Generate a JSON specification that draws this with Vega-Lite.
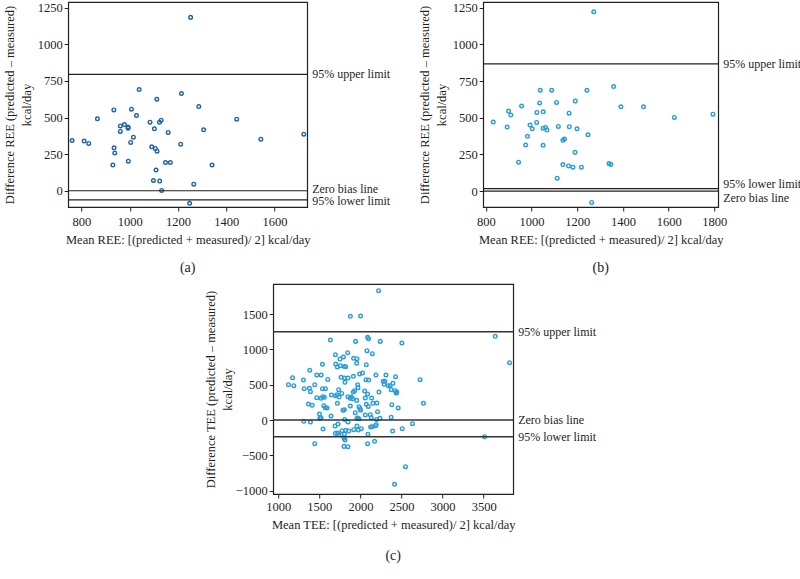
{
  "$schema": "https://vega.github.io/schema/vega-lite/v6.json",
  "padding": {"left": 2, "top": 0, "right": 0, "bottom": 5},
  "background": "white",
  "datasets": {
    "a_pts": [
      {"x":1252,"y":1184},{"x":1039,"y":691},{"x":1214,"y":664},{"x":1112,"y":625},{"x":1286,"y":575},
      {"x":934,"y":552},{"x":1007,"y":557},{"x":1028,"y":514},{"x":866,"y":491},{"x":1443,"y":489},
      {"x":1130,"y":482},{"x":1084,"y":468},{"x":1123,"y":468},{"x":978,"y":452},{"x":961,"y":443},
      {"x":993,"y":436},{"x":993,"y":427},{"x":1102,"y":423},{"x":1306,"y":416},{"x":1159,"y":398},
      {"x":961,"y":405},{"x":1721,"y":386},{"x":1015,"y":366},{"x":1543,"y":352},{"x":761,"y":343},
      {"x":811,"y":339},{"x":830,"y":323},{"x":1004,"y":330},{"x":1211,"y":318},{"x":935,"y":293},
      {"x":1091,"y":300},{"x":1106,"y":289},{"x":1113,"y":270},{"x":938,"y":257},{"x":1148,"y":193},
      {"x":1168,"y":193},{"x":930,"y":175},{"x":1341,"y":175},{"x":994,"y":202},{"x":1109,"y":141},
      {"x":1098,"y":70},{"x":1124,"y":66},{"x":1265,"y":45},{"x":1132,"y":2},{"x":1248,"y":-86}
    ],
    "a_lim": [
      {"t":"95% upper limit","line":795,"lab":795},
      {"t":"Zero bias line","line":0,"lab":15},
      {"t":"95% lower limit","line":-63,"lab":-68}
    ],
    "b_pts": [
      {"x":1272,"y":1221},{"x":1359,"y":712},{"x":1038,"y":687},{"x":1088,"y":687},{"x":1242,"y":687},
      {"x":1035,"y":601},{"x":1109,"y":604},{"x":1191,"y":613},{"x":956,"y":579},{"x":1391,"y":574},
      {"x":1490,"y":574},{"x":899,"y":545},{"x":1023,"y":536},{"x":1051,"y":540},{"x":1164,"y":531},
      {"x":909,"y":518},{"x":1625,"y":502},{"x":1794,"y":524},{"x":832,"y":470},{"x":1022,"y":468},
      {"x":893,"y":436},{"x":993,"y":450},{"x":1003,"y":425},{"x":1050,"y":429},{"x":1061,"y":434},
      {"x":1067,"y":416},{"x":1117,"y":441},{"x":1165,"y":439},{"x":1199,"y":425},{"x":982,"y":373},
      {"x":1247,"y":384},{"x":1137,"y":346},{"x":1144,"y":355},{"x":974,"y":314},{"x":1050,"y":312},
      {"x":1190,"y":264},{"x":943,"y":197},{"x":1137,"y":181},{"x":1162,"y":172},{"x":1181,"y":163},
      {"x":1218,"y":163},{"x":1339,"y":188},{"x":1347,"y":181},{"x":1112,"y":88},{"x":1263,"y":-77}
    ],
    "b_lim": [
      {"t":"95% upper limit","line":866,"lab":866},
      {"t":"95% lower limit","line":17,"lab":49},
      {"t":"Zero bias line","line":0,"lab":-50}
    ],
    "c_pts": [
      {"x":2222,"y":1830},{"x":1878,"y":1467},{"x":2003,"y":1472},{"x":1635,"y":1132},{"x":1942,"y":1113},
      {"x":2088,"y":1170},{"x":2100,"y":1151},{"x":2242,"y":1113},{"x":2505,"y":1090},{"x":3641,"y":1184},
      {"x":1696,"y":925},{"x":1793,"y":892},{"x":1845,"y":953},{"x":1752,"y":863},{"x":1918,"y":873},
      {"x":1959,"y":868},{"x":2080,"y":981},{"x":2145,"y":939},{"x":3815,"y":811},{"x":1538,"y":788},
      {"x":1700,"y":792},{"x":1720,"y":750},{"x":1756,"y":769},{"x":1805,"y":759},{"x":1821,"y":755},
      {"x":1955,"y":802},{"x":2072,"y":783},{"x":1384,"y":703},{"x":1469,"y":637},{"x":1522,"y":637},
      {"x":1603,"y":575},{"x":1765,"y":604},{"x":1805,"y":594},{"x":1849,"y":594},{"x":1914,"y":618},
      {"x":1991,"y":651},{"x":2027,"y":665},{"x":2068,"y":571},{"x":2100,"y":566},{"x":2189,"y":637},
      {"x":2311,"y":637},{"x":2428,"y":613},{"x":2278,"y":547},{"x":2298,"y":547},{"x":1174,"y":599},
      {"x":1307,"y":566},{"x":2727,"y":571},{"x":1125,"y":500},{"x":1190,"y":486},{"x":1445,"y":500},
      {"x":1380,"y":448},{"x":1316,"y":443},{"x":1392,"y":401},{"x":1538,"y":443},{"x":1574,"y":443},
      {"x":1736,"y":429},{"x":1813,"y":533},{"x":1773,"y":377},{"x":1914,"y":396},{"x":1930,"y":415},
      {"x":1967,"y":500},{"x":1971,"y":458},{"x":2052,"y":410},{"x":2226,"y":396},{"x":2290,"y":505},
      {"x":2339,"y":486},{"x":2363,"y":486},{"x":2396,"y":519},{"x":2375,"y":429},{"x":2424,"y":415},
      {"x":2436,"y":382},{"x":2444,"y":396},{"x":1469,"y":316},{"x":1522,"y":307},{"x":1542,"y":330},
      {"x":1562,"y":321},{"x":1647,"y":354},{"x":1716,"y":358},{"x":1740,"y":325},{"x":1696,"y":344},
      {"x":1849,"y":330},{"x":1874,"y":307},{"x":1890,"y":325},{"x":1906,"y":302},{"x":1955,"y":278},
      {"x":2060,"y":311},{"x":2137,"y":311},{"x":2088,"y":368},{"x":2153,"y":236},{"x":2072,"y":222},
      {"x":2096,"y":193},{"x":1878,"y":198},{"x":1789,"y":137},{"x":1805,"y":146},{"x":1368,"y":226},
      {"x":1413,"y":208},{"x":1554,"y":203},{"x":1574,"y":175},{"x":1595,"y":170},{"x":1720,"y":236},
      {"x":1983,"y":189},{"x":1995,"y":160},{"x":2003,"y":137},{"x":2201,"y":241},{"x":2383,"y":217},
      {"x":2460,"y":170},{"x":2440,"y":387},{"x":2768,"y":236},{"x":1502,"y":85},{"x":1522,"y":33},
      {"x":1506,"y":24},{"x":1643,"y":57},{"x":1938,"y":104},{"x":1959,"y":24},{"x":1983,"y":19},
      {"x":2060,"y":71},{"x":2120,"y":75},{"x":2133,"y":33},{"x":2209,"y":118},{"x":2238,"y":24},
      {"x":2197,"y":9},{"x":2375,"y":38},{"x":1311,"y":-19},{"x":1392,"y":-28},{"x":1809,"y":9},
      {"x":1849,"y":-28},{"x":1967,"y":28},{"x":1546,"y":-127},{"x":1692,"y":-85},{"x":1728,"y":-57},
      {"x":1696,"y":-189},{"x":1777,"y":-151},{"x":1805,"y":-203},{"x":1821,"y":-146},{"x":1858,"y":-156},
      {"x":1918,"y":-137},{"x":1959,"y":-85},{"x":1975,"y":-142},{"x":2011,"y":-123},{"x":2092,"y":-203},
      {"x":2124,"y":-99},{"x":2145,"y":-94},{"x":2185,"y":-80},{"x":2193,"y":-66},{"x":2392,"y":-156},
      {"x":2509,"y":-123},{"x":2634,"y":-52},{"x":3512,"y":-236},{"x":1724,"y":-184},{"x":1740,"y":-208},
      {"x":1801,"y":-259},{"x":1813,"y":-283},{"x":1801,"y":-373},{"x":1849,"y":-377},{"x":2088,"y":-335},
      {"x":2173,"y":-302},{"x":1445,"y":-335},{"x":2549,"y":-660},{"x":2416,"y":-910}
    ],
    "c_lim": [
      {"t":"95% upper limit","line":1250,"lab":1250},
      {"t":"Zero bias line","line":0,"lab":0},
      {"t":"95% lower limit","line":-236,"lab":-236}
    ]
  },
  "vconcat": [
    {
      "hconcat": [
        {
          "width": 239, "height": 205,
          "title": {"text": "(a)", "orient": "bottom", "anchor": "middle", "fontSize": 14, "fontWeight": "normal", "font": "Liberation Serif", "color": "#231f20", "offset": 15},
          "layer": [
            {
              "data": {"name": "a_pts"},
              "mark": {"type": "point", "shape": "circle", "filled": false, "size": 13, "strokeWidth": 1.4, "color": "#1f64a6", "opacity": 1},
              "encoding": {
                "x": {"field": "x", "type": "quantitative", "scale": {"domain": [745, 1735], "nice": false, "zero": false},
                      "axis": {"values": [800, 1000, 1200, 1400, 1600], "format": "d", "title": "Mean REE: [(predicted + measured)/ 2] kcal/day"}},
                "y": {"field": "y", "type": "quantitative", "scale": {"domain": [-111, 1289], "nice": false, "zero": false},
                      "axis": {"values": [0, 250, 500, 750, 1000, 1250], "format": "d", "title": ["Difference REE (predicted – measured)", "kcal/day"]}}
              }
            },
            {
              "data": {"name": "a_lim"},
              "mark": {"type": "rule", "color": "#231f20", "strokeWidth": 1.2},
              "encoding": {"y": {"field": "line", "type": "quantitative"}}
            },
            {
              "data": {"name": "a_lim"},
              "mark": {"type": "text", "align": "left", "baseline": "middle", "dx": 5, "fontSize": 12, "font": "Liberation Serif", "color": "#231f20"},
              "encoding": {
                "x": {"datum": 1735, "type": "quantitative"},
                "y": {"field": "lab", "type": "quantitative"},
                "text": {"field": "t"}
              }
            }
          ]
        },
        {
          "width": 235, "height": 205,
          "title": {"text": "(b)", "orient": "bottom", "anchor": "middle", "fontSize": 14, "fontWeight": "normal", "font": "Liberation Serif", "color": "#231f20", "offset": 15},
          "layer": [
            {
              "data": {"name": "b_pts"},
              "mark": {"type": "point", "shape": "circle", "filled": false, "size": 13, "strokeWidth": 1.4, "color": "#2a9dd8", "opacity": 1},
              "encoding": {
                "x": {"field": "x", "type": "quantitative", "scale": {"domain": [788, 1817], "nice": false, "zero": false},
                      "axis": {"values": [800, 1000, 1200, 1400, 1600, 1800], "format": "d", "title": "Mean REE: [(predicted + measured)/ 2] kcal/day"}},
                "y": {"field": "y", "type": "quantitative", "scale": {"domain": [-108, 1288], "nice": false, "zero": false},
                      "axis": {"values": [0, 250, 500, 750, 1000, 1250], "format": "d", "title": ["Difference REE (predicted – measured)", "kcal/day"]}}
              }
            },
            {
              "data": {"name": "b_lim"},
              "mark": {"type": "rule", "color": "#231f20", "strokeWidth": 1.2},
              "encoding": {"y": {"field": "line", "type": "quantitative"}}
            },
            {
              "data": {"name": "b_lim"},
              "mark": {"type": "text", "align": "left", "baseline": "middle", "dx": 5, "fontSize": 12, "font": "Liberation Serif", "color": "#231f20"},
              "encoding": {
                "x": {"datum": 1817, "type": "quantitative"},
                "y": {"field": "lab", "type": "quantitative"},
                "text": {"field": "t"}
              }
            }
          ]
        }
      ],
      "spacing": 26
    },
    {
      "width": 240, "height": 210,
      "title": {"text": "(c)", "orient": "bottom", "anchor": "middle", "fontSize": 14, "fontWeight": "normal", "font": "Liberation Serif", "color": "#231f20", "offset": 18},
      "layer": [
        {
          "data": {"name": "c_pts"},
          "mark": {"type": "point", "shape": "circle", "filled": false, "size": 13, "strokeWidth": 1.4, "color": "#2a9dd8", "opacity": 1},
          "encoding": {
            "x": {"field": "x", "type": "quantitative", "scale": {"domain": [939, 3860], "nice": false, "zero": false},
                  "axis": {"values": [1000, 1500, 2000, 2500, 3000, 3500], "format": "d", "title": "Mean TEE: [(predicted + measured)/ 2] kcal/day", "labelPadding": 2, "titlePadding": 6}},
            "y": {"field": "y", "type": "quantitative", "scale": {"domain": [-1047, 1925], "nice": false, "zero": false},
                  "axis": {"values": [-1000, -500, 0, 500, 1000, 1500], "format": "d", "title": ["Difference TEE (predicted – measured)", "kcal/day"], "titlePadding": 1}}
          }
        },
        {
          "data": {"name": "c_lim"},
          "mark": {"type": "rule", "color": "#333333", "strokeWidth": 1.4},
          "encoding": {"y": {"field": "line", "type": "quantitative"}}
        },
        {
          "data": {"name": "c_lim"},
          "mark": {"type": "text", "align": "left", "baseline": "middle", "dx": 5, "fontSize": 12, "font": "Liberation Serif", "color": "#231f20"},
          "encoding": {
            "x": {"datum": 3860, "type": "quantitative"},
            "y": {"field": "lab", "type": "quantitative"},
            "text": {"field": "t"}
          }
        }
      ]
    }
  ],
  "spacing": 7,
  "center": true,
  "resolve": {"scale": {"x": "independent", "y": "independent"}},
  "config": {
    "font": "Liberation Serif",
    "view": {"stroke": "#231f20", "strokeWidth": 1.2},
    "axis": {
      "grid": false, "domain": false, "tickColor": "#231f20", "tickSize": 4, "tickWidth": 1,
      "labelFont": "Liberation Serif", "labelFontSize": 12.5, "labelColor": "#231f20",
      "titleFont": "Liberation Serif", "titleFontSize": 12.5, "titleFontWeight": "normal", "titleColor": "#231f20"
    },
    "axisX": {"labelPadding": 4, "titlePadding": 6},
    "axisY": {"labelPadding": 2, "titlePadding": 4, "titleLineHeight": 17}
  }
}
